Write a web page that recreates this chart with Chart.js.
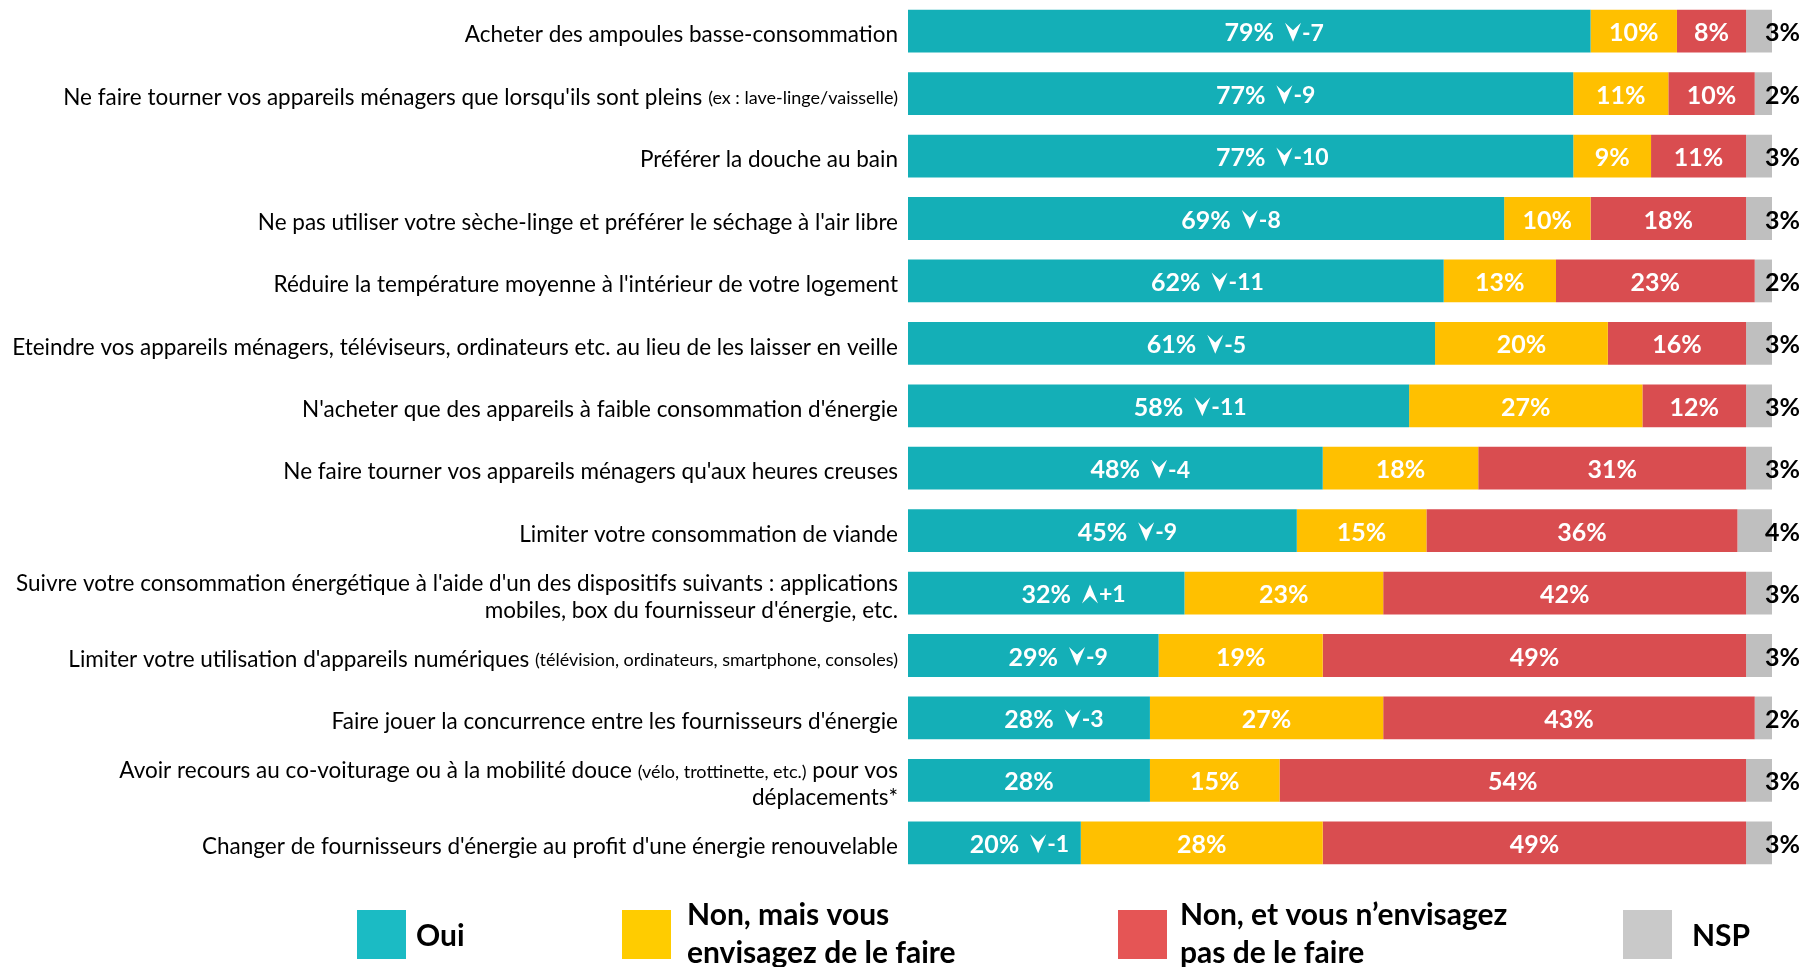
<!DOCTYPE html>
<html lang="fr">
<head>
<meta charset="utf-8">
<title>Gestes économies d'énergie</title>
<script src="https://cdn.jsdelivr.net/npm/chart.js@4.4.1/dist/chart.umd.min.js"></script>
<style>
    html, body { margin: 0; padding: 0; background: #ffffff; }
    #wrap { width: 1807px; height: 967px; position: relative; }
</style>
</head>
<body>
<div id="wrap"><canvas id="gestesChart"></canvas></div>
<script>
// each category is a list of lines; text inside parentheses is drawn smaller
const categories = [
    ["Acheter des ampoules basse-consommation"],
    ["Ne faire tourner vos appareils ménagers que lorsqu'ils sont pleins (ex : lave-linge/vaisselle)"],
    ["Préférer la douche au bain"],
    ["Ne pas utiliser votre sèche-linge et préférer le séchage à l'air libre"],
    ["Réduire la température moyenne à l'intérieur de votre logement"],
    ["Eteindre vos appareils ménagers, téléviseurs, ordinateurs etc. au lieu de les laisser en veille"],
    ["N'acheter que des appareils à faible consommation d'énergie"],
    ["Ne faire tourner vos appareils ménagers qu'aux heures creuses"],
    ["Limiter votre consommation de viande"],
    ["Suivre votre consommation énergétique à l'aide d'un des dispositifs suivants : applications", "mobiles, box du fournisseur d'énergie, etc."],
    ["Limiter votre utilisation d'appareils numériques (télévision, ordinateurs, smartphone, consoles)"],
    ["Faire jouer la concurrence entre les fournisseurs d'énergie"],
    ["Avoir recours au co-voiturage ou à la mobilité douce (vélo, trottinette, etc.) pour vos", "déplacements*"],
    ["Changer de fournisseurs d'énergie au profit d'une énergie renouvelable"]
];

const oui     = [79, 77, 77, 69, 62, 61, 58, 48, 45, 32, 29, 28, 28, 20];
const nonMais = [10, 11, 9, 10, 13, 20, 27, 18, 15, 23, 19, 27, 15, 28];
const nonEt   = [8, 10, 11, 18, 23, 16, 12, 31, 36, 42, 49, 43, 54, 49];
const nsp     = [3, 2, 3, 3, 2, 3, 3, 3, 4, 3, 3, 2, 3, 3];

// evolution of "Oui" vs previous wave (null = no comparison)
const evolution = [-7, -9, -10, -8, -11, -5, -11, -4, -9, 1, -9, -3, null, -1];

const seriesNames = ['Oui', 'Non, mais vous envisagez de le faire', 'Non, et vous n’envisagez pas de le faire', 'NSP'];
const legendLines = [['Oui'], ['Non, mais vous', 'envisagez de le faire'], ['Non, et vous n’envisagez', 'pas de le faire'], ['NSP']];

const barColors = ['#14afb7', '#ffc000', '#d94d50', '#bfbfbf'];
const legendColors = ['#1bbbc4', '#ffcc00', '#e55555', '#c9c9c9'];

const FONT = 'Lato, "Liberation Sans", sans-serif';

function drawArrow(ctx, x, cy, up) {
    const w = 16, h = 19;
    const top = cy - h / 2;
    ctx.beginPath();
    if (up) {
        ctx.moveTo(x + w / 2, top);
        ctx.lineTo(x + w, top + h);
        ctx.lineTo(x + w / 2, top + h * 0.6);
        ctx.lineTo(x, top + h);
    } else {
        ctx.moveTo(x, top);
        ctx.lineTo(x + w / 2, top + h * 0.4);
        ctx.lineTo(x + w, top);
        ctx.lineTo(x + w / 2, top + h);
    }
    ctx.closePath();
    ctx.fill();
}

const categoryLabels = {
    id: 'categoryLabels',
    afterDraw(chart) {
        const ctx = chart.ctx;
        const yScale = chart.scales.y;
        const right = chart.chartArea.left - 10;
        ctx.save();
        ctx.fillStyle = '#000000';
        ctx.textBaseline = 'middle';
        categories.forEach((lines, i) => {
            const cy = yScale.getPixelForValue(i) + 4;
            const lh = 27;
            const y0 = cy - (lines.length - 1) * lh / 2;
            lines.forEach((line, j) => {
                const parts = line.split(/(\([^)]*\))/).filter(p => p.length);
                let x = right;
                for (let k = parts.length - 1; k >= 0; k--) {
                    const small = parts[k].startsWith('(');
                    ctx.font = (small ? '18px ' : '22.5px ') + FONT;
                    ctx.textAlign = 'right';
                    ctx.fillText(parts[k], x, y0 + j * lh + (small ? 1 : 0));
                    x -= ctx.measureText(parts[k]).width;
                }
            });
        });
        ctx.restore();
    }
};

const valueLabels = {
    id: 'valueLabels',
    afterDatasetsDraw(chart) {
        const ctx = chart.ctx;
        ctx.save();
        ctx.textBaseline = 'middle';
        ctx.font = 'bold 25px ' + FONT;
        chart.data.datasets.forEach((ds, d) => {
            const meta = chart.getDatasetMeta(d);
            meta.data.forEach((bar, i) => {
                const txt = ds.data[i] + '%';
                const y = bar.y + 2;
                if (d === 3) {
                    ctx.fillStyle = '#000000';
                    ctx.textAlign = 'left';
                    ctx.fillText(txt, bar.x - 7, y);
                    return;
                }
                const cx = (bar.x + bar.base) / 2;
                ctx.fillStyle = '#ffffff';
                ctx.textAlign = 'center';
                ctx.fillText(txt, cx, y);
                if (d === 0 && evolution[i] !== null) {
                    const ev = evolution[i];
                    let x = cx + ctx.measureText(txt).width / 2 + 11;
                    drawArrow(ctx, x, bar.y + 1, ev > 0);
                    x += 17;
                    ctx.save();
                    ctx.font = 'bold 23px ' + FONT;
                    ctx.textAlign = 'left';
                    ctx.fillText((ev > 0 ? '+' : '') + ev, x, y);
                    ctx.restore();
                }
            });
        });
        ctx.restore();
    }
};

const bottomLegend = {
    id: 'bottomLegend',
    afterDraw(chart) {
        const ctx = chart.ctx;
        const boxX = [357, 622, 1118, 1623];
        const textX = [416, 687, 1180, 1692];
        ctx.save();
        ctx.textBaseline = 'middle';
        ctx.textAlign = 'left';
        ctx.font = 'bold 30px ' + FONT;
        legendLines.forEach((lines, i) => {
            ctx.fillStyle = legendColors[i];
            ctx.fillRect(boxX[i], 910, 49, 49);
            ctx.fillStyle = '#000000';
            if (lines.length === 1) {
                ctx.fillText(lines[0], textX[i], 936);
            } else {
                ctx.fillText(lines[0], textX[i], 915);
                ctx.fillText(lines[1], textX[i], 953);
            }
        });
        ctx.restore();
    }
};

const seriesData = [oui, nonMais, nonEt, nsp];

const ctx = document.getElementById('gestesChart').getContext('2d');
const gestesChart = new Chart(ctx, {
    type: 'bar',
    data: {
        labels: categories.map(c => c.join(' ')),
        datasets: seriesData.map((values, d) => ({
            label: seriesNames[d],
            data: values,
            backgroundColor: barColors[d],
            borderWidth: 0,
            categoryPercentage: 1,
            barPercentage: 0.685
        }))
    },
    options: {
        indexAxis: 'y',
        responsive: true,
        maintainAspectRatio: false,
        animation: false,
        layout: {
            padding: { top: 0, right: 35, bottom: 93, left: 0 }
        },
        plugins: {
            legend: { display: false },
            tooltip: { enabled: false },
            title: { display: false }
        },
        scales: {
            x: {
                stacked: true,
                min: 0,
                max: 100,
                display: false
            },
            y: {
                stacked: true,
                grid: { display: false },
                border: { display: false },
                ticks: { display: false },
                afterFit(scale) {
                    scale.width = 908;
                }
            }
        }
    },
    plugins: [categoryLabels, valueLabels, bottomLegend]
});
</script>
</body>
</html>
